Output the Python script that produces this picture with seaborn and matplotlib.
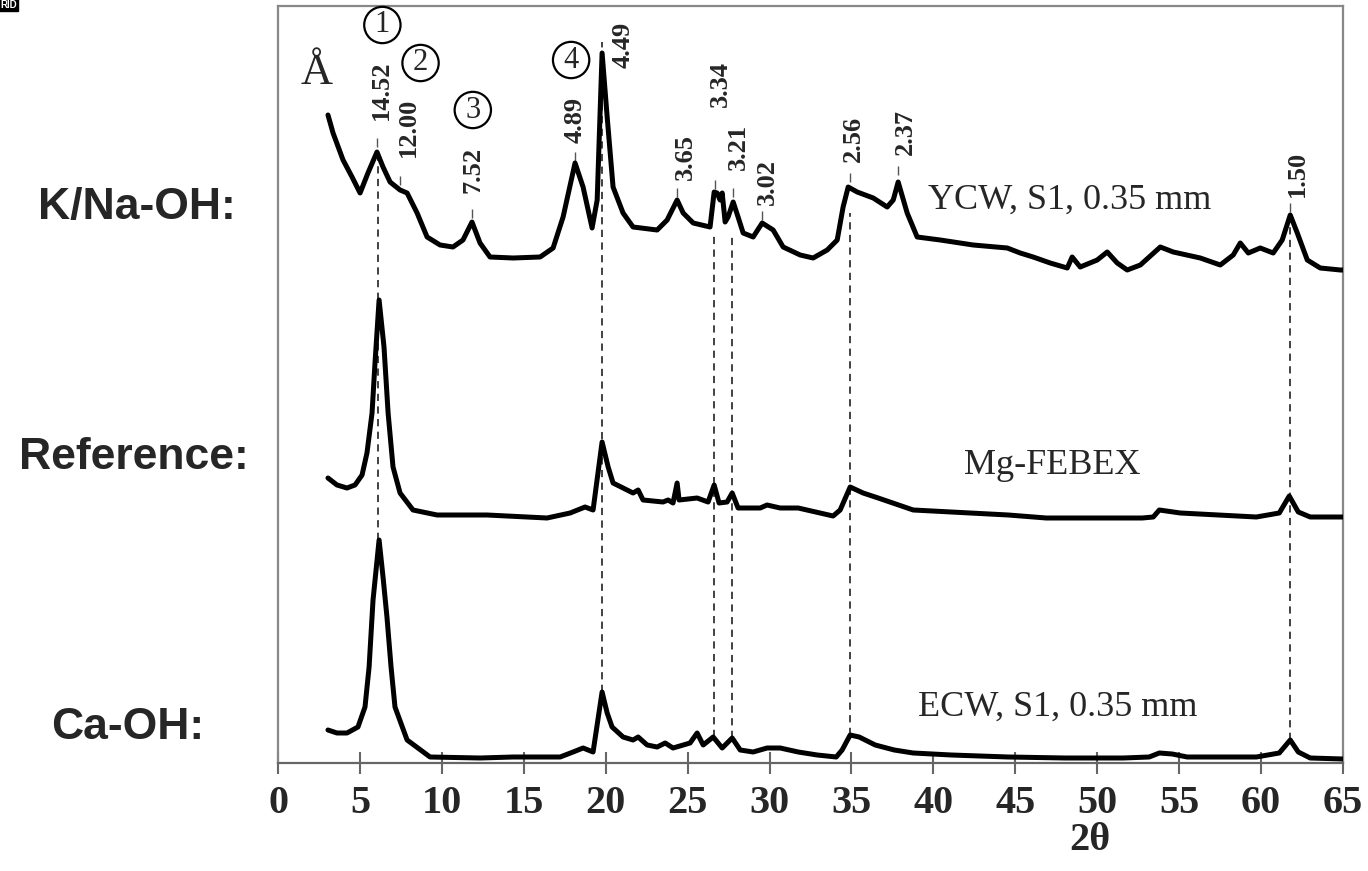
import numpy as np
import pandas as pd
import seaborn as sns
import matplotlib.pyplot as plt

# 2-theta positions (deg) and intensities (arbitrary units)
ycw_x = [3.05, 3.36, 3.97, 4.52, 5.01, 5.49, 6.04, 6.41, 6.84, 7.45, 7.88, 8.49, 9.10, 9.89,
         10.68, 11.29, 11.84, 12.33, 12.94, 14.35, 16.00, 16.79, 17.40, 18.13, 18.62, 19.17,
         19.48, 19.78, 20.09, 20.45, 21.06, 21.67, 23.14, 23.75, 24.36, 24.73, 25.34, 26.37,
         26.62, 26.80, 26.98, 27.11, 27.29, 27.47, 27.78, 28.08, 28.39, 29.00, 29.55, 30.22,
         30.83, 31.87, 32.66, 33.52, 34.13, 34.49, 34.80, 35.35, 36.33, 37.18, 37.55, 37.85,
         38.40, 39.01, 40.42, 42.43, 44.51, 45.30, 46.09, 47.13, 48.17, 48.47, 48.96, 50.00,
         50.61, 51.22, 51.83, 52.63, 53.85, 54.64, 56.29, 57.51, 58.30, 58.73, 59.22, 59.95,
         60.74, 61.29, 61.78, 62.21, 62.82, 63.61, 64.84, 65.0]
ycw_y = [648, 630, 603, 586, 570, 590, 611, 596, 581, 573, 570, 550, 526, 518,
         516, 523, 541, 520, 506, 505, 506, 515, 546, 600, 576, 535,
         563, 710, 646, 576, 550, 536, 533, 543, 563, 550, 540, 536,
         571, 570, 563, 570, 541, 546, 561, 546, 530, 526, 540, 533,
         516, 508, 505, 513, 523, 556, 576, 571, 565, 556, 563, 581,
         550, 526, 523, 518, 515, 510, 506, 500, 495, 506, 496, 503,
         511, 500, 493, 498, 516, 511, 505, 498, 508, 520, 510, 515,
         510, 523, 548, 530, 503, 495, 493, 493]

feb_x = [3.05, 3.60, 4.21, 4.70, 5.13, 5.43, 5.74, 5.92, 6.17, 6.47, 6.72, 7.02, 7.45, 8.24,
         9.71, 12.76, 16.42, 17.83, 18.74, 19.23, 19.78, 20.15, 20.45, 21.06, 21.67, 21.98,
         22.28, 23.50, 23.81, 24.11, 24.36, 24.48, 25.58, 26.25, 26.62, 26.92, 27.41, 27.72,
         28.08, 29.43, 29.85, 30.65, 31.75, 33.88, 34.31, 34.92, 35.71, 36.63, 38.77, 41.09,
         44.57, 46.89, 52.75, 53.42, 53.79, 55.07, 57.39, 59.71, 61.11, 61.72, 62.27, 63.00, 65.0]
feb_y = [285, 278, 275, 278, 288, 310, 350, 400, 463, 416, 350, 296, 270, 253,
         248, 248, 245, 250, 256, 253, 321, 296, 280, 275, 270, 273,
         263, 261, 263, 260, 280, 263, 265, 261, 278, 260, 261, 270,
         255, 255, 258, 255, 255, 247, 253, 276, 270, 265, 253, 251,
         248, 245, 245, 246, 253, 250, 248, 246, 250, 267, 251, 246, 246]

ecw_x = [3.05, 3.60, 4.21, 4.88, 5.31, 5.56, 5.80, 6.17, 6.41, 6.65, 6.90, 7.14, 7.88, 9.28,
         12.33, 14.35, 17.22, 18.01, 18.62, 19.23, 19.78, 20.09, 20.39, 21.06, 21.67, 21.98,
         22.53, 23.14, 23.63, 24.11, 25.15, 25.58, 25.95, 26.56, 27.11, 27.72, 28.21, 29.00,
         29.85, 30.65, 31.75, 32.91, 34.07, 34.43, 34.92, 35.47, 36.45, 37.61, 38.77, 41.09,
         44.57, 48.05, 51.59, 53.17, 53.79, 54.58, 55.49, 57.39, 59.71, 61.11, 61.78, 62.27,
         63.00, 65.0]
ecw_y = [33, 30, 30, 36, 56, 96, 163, 223, 186, 146, 96, 56, 23, 6,
         5, 6, 6, 11, 15, 11, 71, 50, 36, 26, 23, 26,
         18, 16, 20, 15, 20, 30, 18, 26, 15, 25, 13, 11,
         15, 15, 11, 8, 6, 13, 28, 26, 18, 13, 10, 8,
         6, 5, 5, 6, 10, 9, 6, 6, 6, 10, 23, 11,
         5, 4]

# dashed guide lines: position, top, bottom
guide_x = [6.08, 19.78, 26.62, 27.72, 34.92, 61.78]
guide_top = [613, 721, 530, 530, 550, 548]
guide_bot = [223, 71, 26, 25, 28, 23]

# d-spacing labels (angstrom) above the YCW peaks
d_text = ['14.52', '12.00', '7.52', '4.89', '4.49', '3.65', '3.34', '3.21', '3.02',
          '2.56', '2.37', '1.50']
d_x = [6.30, 7.94, 11.90, 18.13, 21.06, 24.85, 26.98, 28.08, 29.85, 35.10, 38.28, 62.21]
d_y = [643, 606, 570, 620, 695, 583, 656, 593, 558, 601, 608, 566]
tick_x = [6.04, 7.45, 11.84, 18.13, 24.36, 26.70, 27.78, 29.55, 34.92, 37.85, 61.78]
tick_lo = [616, 578, 545, 602, 566, 574, 566, 543, 581, 588, 551]

circ_text = ['1', '2', '3', '4']
circ_x = [6.37, 8.70, 11.89, 17.89]
circ_y = [738, 700, 653, 703]

sns.set_style('white')
plt.rcParams['font.family'] = ['Liberation Serif', 'DejaVu Serif']

fig = plt.figure(figsize=(13.68, 8.71), dpi=100)
ax = fig.add_axes([278 / 1368, 1 - 763 / 871, 1065 / 1368, 757 / 871])

ax.vlines(guide_x, guide_bot, guide_top, colors='#333333', linewidth=1.3,
          linestyles=(0, (4, 3)), zorder=1)
ax.vlines(tick_x, tick_lo, [v + 9 for v in tick_lo], colors='#555555', linewidth=1.0, zorder=1)

for xs, ys in [(ycw_x, ycw_y), (feb_x, feb_y), (ecw_x, ecw_y)]:
    df = pd.DataFrame({'x': xs, 'y': ys})
    sns.lineplot(data=df, x='x', y='y', ax=ax, color='black', linewidth=3.6,
                 sort=False, estimator=None, zorder=3,
                 solid_joinstyle='round', solid_capstyle='round')

for t, x, y in zip(d_text, d_x, d_y):
    ax.text(x, y, t, rotation=90, ha='center', va='bottom', fontsize=19, fontweight='bold')

for t, x, y in zip(circ_text, circ_x, circ_y):
    ax.text(x, y, t, ha='center', va='center', fontsize=22,
            bbox=dict(boxstyle='circle,pad=0.12', fc='white', ec='black', lw=1.6))

ax.text(2.38, 690, 'Å', ha='center', va='center', fontsize=32)
ax.text(39.7, 563, 'YCW, S1, 0.35 mm', ha='left', va='center', fontsize=26)
ax.text(47.25, 298, 'Mg-FEBEX', ha='center', va='center', fontsize=26)
ax.text(47.56, 56, 'ECW, S1, 0.35 mm', ha='center', va='center', fontsize=26)

ax.set_xlim(0, 65)
ax.set_ylim(0, 757)
ax.set_xticks(range(0, 70, 5))
ax.set_yticks([])
ax.set_xlabel('')
ax.set_ylabel('')
ax.tick_params(axis='x', direction='inout', length=16, width=1.5, color='#666666',
               labelsize=29, pad=8, bottom=True)
for lab in ax.get_xticklabels():
    lab.set_fontweight('bold')
for s in ax.spines.values():
    s.set_color('#888888')
    s.set_linewidth(1.6)
ax.spines['bottom'].set_color('#666666')

ax.text(0.762, -0.103, '2θ', transform=ax.transAxes, ha='center', va='center',
        fontsize=29, fontweight='bold')

for t, px, py in [('K/Na-OH:', 137, 207), ('Reference:', 134, 457), ('Ca-OH:', 128, 727)]:
    fig.text(px / 1368, 1 - py / 871, t, ha='center', va='center', fontsize=32,
             fontweight='bold', family=['Liberation Sans', 'DejaVu Sans'])

fig.text(0.0, 1.0, 'RID', ha='left', va='top', fontsize=7, fontweight='bold', color='white',
         family=['Liberation Sans'], bbox=dict(boxstyle='square,pad=0.15', fc='black', ec='black'))

fig.savefig('out.png', dpi=100)
